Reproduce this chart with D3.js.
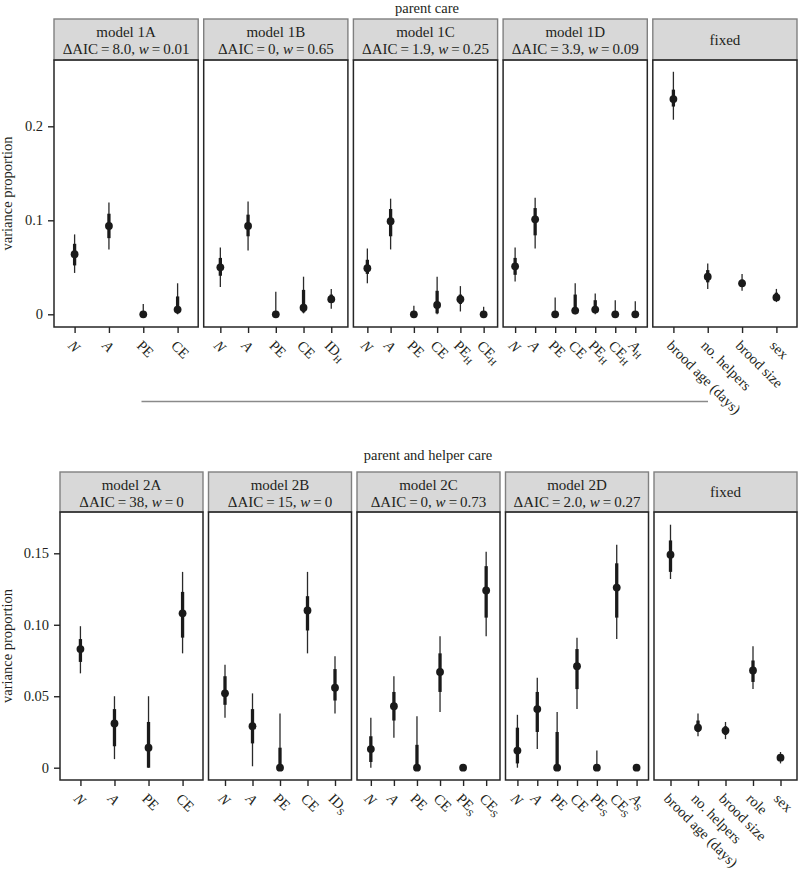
<!DOCTYPE html>
<html><head><meta charset="utf-8">
<script src="https://cdn.jsdelivr.net/npm/d3@7"></script>
<style>body{margin:0;background:#fff} svg{display:block}</style>
</head><body><svg id="c" width="798" height="875"></svg>
<script>
// ---------- DATA ----------
const row1Title = "parent care";
const row1Panels = ["model 1A","model 1B","model 1C","model 1D","fixed"];
const row1AIC = [["8.0","0.01"],["0","0.65"],["1.9","0.25"],["3.9","0.09"],null];
const row1Cats = [
  ["N","A","PE","CE"],
  ["N","A","PE","CE","ID_H"],
  ["N","A","PE","CE","PE_H","CE_H"],
  ["N","A","PE","CE","PE_H","CE_H","A_H"],
  ["brood age (days)","no. helpers","brood size","sex"]
];
const row1Est  = [[0.064,0.094,0,0.005],[0.050,0.094,0,0.007,0.016],[0.049,0.099,0,0.010,0.016,0],[0.051,0.101,0,0.004,0.005,0,0],[0.229,0.040,0.033,0.018]];
const row1Lo95 = [[0.044,0.069,0,0],[0.029,0.068,0,0.001,0.006],[0.033,0.069,0,0,0.003,0],[0.035,0.070,0,0,0,0,0],[0.207,0.027,0.025,0.013]];
const row1Hi95 = [[0.085,0.119,0.011,0.033],[0.071,0.120,0.024,0.040,0.027],[0.070,0.123,0.009,0.040,0.030,0.008],[0.071,0.124,0.018,0.033,0.022,0.015,0.014],[0.258,0.054,0.043,0.027]];
const row1Lo50 = [[0.052,0.081,0,0.001],[0.041,0.083,0,0.002,0.012],[0.043,0.083,0,0.001,0.011,0],[0.042,0.084,0,0.001,0.002,0,0],[0.221,0.034,0.029,0.016]];
const row1Hi50 = [[0.075,0.107,0.001,0.019],[0.060,0.106,0.001,0.026,0.021],[0.058,0.112,0.001,0.025,0.021,0.001],[0.060,0.113,0.001,0.021,0.015,0.001,0.001],[0.239,0.047,0.037,0.023]];
const row1YTicks = [0, 0.1, 0.2];
const row1YLabels = ["0", "0.1", "0.2"];

const row2Title = "parent and helper care";
const row2Panels = ["model 2A","model 2B","model 2C","model 2D","fixed"];
const row2AIC = [["38","0"],["15","0"],["0","0.73"],["2.0","0.27"],null];
const row2Cats = [
  ["N","A","PE","CE"],
  ["N","A","PE","CE","ID_S"],
  ["N","A","PE","CE","PE_S","CE_S"],
  ["N","A","PE","CE","PE_S","CE_S","A_S"],
  ["brood age (days)","no. helpers","brood size","role","sex"]
];
const row2Est  = [[0.083,0.031,0.014,0.108],[0.052,0.029,0,0.110,0.056],[0.013,0.043,0,0.067,0,0.124],[0.012,0.041,0,0.071,0,0.126,0],[0.149,0.028,0.026,0.068,0.007]];
const row2Lo95 = [[0.066,0.006,0,0.080],[0.035,0.001,0,0.080,0.038],[0,0.021,0,0.039,0,0.092],[0,0.013,0,0.041,0,0.090,0],[0.132,0.022,0.020,0.055,0.003]];
const row2Hi95 = [[0.099,0.050,0.050,0.137],[0.072,0.052,0.038,0.137,0.078],[0.035,0.064,0.036,0.092,0,0.151],[0.037,0.063,0.039,0.091,0.012,0.156,0],[0.170,0.038,0.032,0.085,0.011]];
const row2Lo50 = [[0.074,0.015,0,0.091],[0.044,0.017,0,0.096,0.047],[0.004,0.033,0,0.053,0,0.105],[0.003,0.025,0,0.055,0,0.105,0],[0.137,0.025,0.023,0.060,0.005]];
const row2Hi50 = [[0.090,0.041,0.032,0.123],[0.064,0.041,0.014,0.120,0.069],[0.022,0.053,0.016,0.080,0,0.141],[0.028,0.053,0.025,0.083,0.001,0.143,0],[0.159,0.033,0.029,0.075,0.009]];
const row2YTicks = [0, 0.05, 0.10, 0.15];
const row2YLabels = ["0", "0.05", "0.10", "0.15"];

// ---------- DRAW ----------
const FONT = "'Liberation Serif','Times New Roman','DejaVu Serif',serif";
const TXT = "#231f20";
const svg = d3.select("#c").style("font-family", FONT);

function addLabel(sel, cat) {
  const parts = cat.split("_");
  const base = parts[0];
  const t = sel.append("tspan").text(base);
  if (base === "N" || base === "A") t.attr("font-style", "italic");
  if (parts[1]) {
    sel.append("tspan").attr("font-size", "10px").attr("dy", "0.3em").text(parts[1]);
  }
}

function drawRow(cfg) {
  const n = cfg.panels.length;
  const w = (cfg.right - cfg.left - (n - 1) * cfg.gap) / n;
  const y = d3.scaleLinear().domain([0, cfg.refVal]).range([cfg.y0px, cfg.yRefPx]);

  svg.append("text").attr("x", cfg.titleX).attr("y", cfg.titleY)
    .attr("text-anchor", "middle").attr("font-size", "14.5px").attr("fill", TXT).text(cfg.title);

  svg.append("text")
    .attr("transform", `translate(12,${(cfg.panelTop + cfg.panelBottom) / 2}) rotate(-90)`)
    .attr("text-anchor", "middle").attr("font-size", "14.5px").attr("fill", TXT)
    .text("variance proportion");

  for (let i = 0; i < n; i++) {
    const x0 = cfg.left + i * (w + cfg.gap);
    const g = svg.append("g");
    // strip
    g.append("rect").attr("x", x0).attr("y", cfg.stripTop).attr("width", w)
      .attr("height", cfg.panelTop - cfg.stripTop)
      .attr("fill", "#d8d8d8").attr("stroke", "#808080").attr("stroke-width", 1.4);
    const cx = x0 + w / 2;
    if (cfg.aic[i]) {
      g.append("text").attr("x", cx).attr("y", cfg.stripTop + 17.5).attr("text-anchor", "middle")
        .attr("font-size", "15px").attr("fill", TXT).text(cfg.panels[i]);
      const t2 = g.append("text").attr("x", cx).attr("y", cfg.stripTop + 35).attr("text-anchor", "middle")
        .attr("font-size", "15px").attr("fill", TXT);
      t2.append("tspan").text("\u0394AIC\u2009=\u2009" + cfg.aic[i][0] + ", ");
      t2.append("tspan").attr("font-style", "italic").text("w");
      t2.append("tspan").text("\u2009=\u2009" + cfg.aic[i][1]);
    } else {
      g.append("text").attr("x", cx).attr("y", (cfg.stripTop + cfg.panelTop) / 2 + 5).attr("text-anchor", "middle")
        .attr("font-size", "15px").attr("fill", TXT).text(cfg.panels[i]);
    }
    // panel
    g.append("rect").attr("x", x0).attr("y", cfg.panelTop).attr("width", w)
      .attr("height", cfg.panelBottom - cfg.panelTop)
      .attr("fill", "none").attr("stroke", "#262626").attr("stroke-width", 1.5);

    const cats = cfg.cats[i];
    const x = d3.scalePoint().domain(cats).range([x0, x0 + w]).padding(0.6);

    // x axis ticks
    const ax = g.append("g").attr("transform", `translate(0,${cfg.panelBottom})`)
      .call(d3.axisBottom(x).tickSize(6).tickSizeOuter(0).tickFormat(""));
    ax.select(".domain").remove();
    ax.selectAll("line").attr("stroke", "#262626").attr("stroke-width", 1.4);

    cats.forEach(c => {
      const tx = g.append("text")
        .attr("transform", `translate(${x(c)},${cfg.panelBottom + 12}) rotate(45)`)
        .attr("dy", "0.72em").attr("text-anchor", "start")
        .attr("font-size", "14.5px").attr("fill", TXT);
      addLabel(tx, c);
    });

    // y axis on first panel
    if (i === 0) {
      const ay = g.append("g").attr("transform", `translate(${x0},0)`)
        .call(d3.axisLeft(y).tickValues(cfg.yTicks).tickSize(6).tickPadding(5)
          .tickFormat((d, k) => cfg.yLabels[k]));
      ay.select(".domain").remove();
      ay.selectAll("line").attr("stroke", "#262626").attr("stroke-width", 1.4);
      ay.selectAll("text").attr("font-size", "14.5px").attr("fill", TXT).attr("font-family", FONT);
    }

    // marks
    cats.forEach((c, k) => {
      const xc = x(c);
      g.append("line").attr("x1", xc).attr("x2", xc)
        .attr("y1", y(cfg.lo95[i][k])).attr("y2", y(cfg.hi95[i][k]))
        .attr("stroke", "#2a2a2a").attr("stroke-width", 1.3);
      g.append("line").attr("x1", xc).attr("x2", xc)
        .attr("y1", y(cfg.lo50[i][k])).attr("y2", y(cfg.hi50[i][k]))
        .attr("stroke", "#1a1a1a").attr("stroke-width", 3.3);
      g.append("circle").attr("cx", xc).attr("cy", y(cfg.est[i][k])).attr("r", 3.9)
        .attr("fill", "#1a1a1a");
    });
  }
}

drawRow({
  title: row1Title, titleX: 427, titleY: 13,
  panels: row1Panels, aic: row1AIC, cats: row1Cats,
  est: row1Est, lo95: row1Lo95, hi95: row1Hi95, lo50: row1Lo50, hi50: row1Hi50,
  yTicks: row1YTicks, yLabels: row1YLabels,
  left: 54, right: 797, gap: 5.5,
  stripTop: 19, panelTop: 60, panelBottom: 327,
  refVal: 0.2, y0px: 314.3, yRefPx: 126.3
});

// separator line between the two figures
svg.append("line").attr("x1", 141.5).attr("x2", 708).attr("y1", 401.5).attr("y2", 401.5)
  .attr("stroke", "#8a8a8a").attr("stroke-width", 1.4);

drawRow({
  title: row2Title, titleX: 428, titleY: 460,
  panels: row2Panels, aic: row2AIC, cats: row2Cats,
  est: row2Est, lo95: row2Lo95, hi95: row2Hi95, lo50: row2Lo50, hi50: row2Hi50,
  yTicks: row2YTicks, yLabels: row2YLabels,
  left: 60, right: 797, gap: 5.5,
  stripTop: 472, panelTop: 512, panelBottom: 780,
  refVal: 0.15, y0px: 767.7, yRefPx: 553.3
});
</script>
</body></html>
